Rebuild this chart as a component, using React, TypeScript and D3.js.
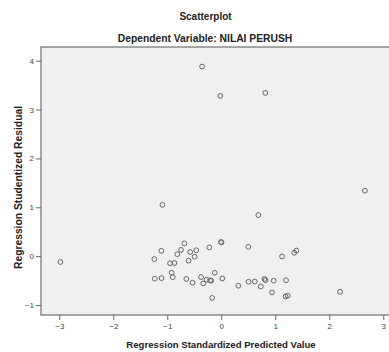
import React, { useRef, useEffect } from 'react';
import * as d3 from 'd3';

// Regression Standardized Predicted Value
const predicted = [
	-2.98, -1.09, -0.357, -0.02, 0.815, 0.685, 2.66, 2.20,
	-0.685, -1.11, -0.746, -0.815, -0.576, -0.463, -0.493, -0.607,
	-1.24, -0.95, -0.867, -0.222, -0.006, 0.004, 0.50, 1.124,
	1.35, 1.39, -0.918, -0.90, -1.233, -1.107, -0.648, -0.533,
	-0.376, -0.335, -0.274, -0.209, -0.187, -0.122, 0.019, -0.169,
	0.315, 0.504, 0.619, 0.731, 0.80, 0.819, 0.97, 0.939,
	1.20, 1.19, 1.23,
];

// Regression Studentized Residual
const residual = [
	-0.12, 1.05, 3.88, 3.28, 3.34, 0.84, 1.34, -0.73,
	0.26, 0.11, 0.127, 0.04, 0.084, 0.12, -0.012, -0.094,
	-0.06, -0.145, -0.14, 0.178, 0.29, 0.28, 0.19, -0.006,
	0.07, 0.115, -0.34, -0.43, -0.46, -0.45, -0.467, -0.544,
	-0.428, -0.56, -0.483, -0.493, -0.503, -0.34, -0.456, -0.855,
	-0.606, -0.524, -0.52, -0.62, -0.467, -0.493, -0.503, -0.743,
	-0.493, -0.825, -0.81,
];

const xTicks = [-3, -2, -1, 0, 1, 2, 3];
const yTicks = [-1, 0, 1, 2, 3, 4];

const width = 389;
const height = 352;

const App: React.FC = () => {
	const svgRef = useRef<SVGSVGElement | null>(null);

	useEffect(() => {
		if (!svgRef.current) return;
		document.body.style.margin = '0';
		document.body.style.overflow = 'hidden';

		const svg = d3.select(svgRef.current)
			.attr('width', width)
			.attr('height', height)
			.attr('viewBox', [0, 0, width, height].join(' '))
			.style('font-family', '"Liberation Sans", Arial, sans-serif');

		const frameLeft = 41;
		const frameTop = 47;
		const frameBottom = 315;
		const frameRight = 395;

		const x = d3.scaleLinear().domain([-3, 3]).range([59.3, 383.3]);
		const y = d3.scaleLinear().domain([-1, 4]).range([305, 60.7]);

		svg.append('rect')
			.attr('width', width)
			.attr('height', height)
			.attr('fill', '#ffffff');

		// plot frame
		svg.append('rect')
			.attr('x', frameLeft)
			.attr('y', frameTop)
			.attr('width', frameRight - frameLeft)
			.attr('height', frameBottom - frameTop)
			.attr('fill', '#f0f0f0')
			.attr('stroke', '#8a8a8a')
			.attr('stroke-width', 1.5);

		// x-axis
		svg.append('g')
			.attr('transform', `translate(0,${frameBottom})`)
			.call(d3.axisBottom(x).tickValues(xTicks).tickSize(5).tickPadding(3).tickFormat(d3.format('d')))
			.call(g => g.select('.domain').remove())
			.call(g => g.selectAll('.tick line').attr('stroke', '#666'))
			.call(g => g.selectAll('.tick text')
				.attr('fill', '#444')
				.attr('font-size', '8px')
				.attr('font-family', '"Liberation Sans", Arial, sans-serif'));

		// y-axis
		svg.append('g')
			.attr('transform', `translate(${frameLeft},0)`)
			.call(d3.axisLeft(y).tickValues(yTicks).tickSize(5).tickPadding(2).tickFormat(d3.format('d')))
			.call(g => g.select('.domain').remove())
			.call(g => g.selectAll('.tick line').attr('stroke', '#666'))
			.call(g => g.selectAll('.tick text')
				.attr('fill', '#444')
				.attr('font-size', '8px')
				.attr('font-family', '"Liberation Sans", Arial, sans-serif'));

		// points
		svg.append('g')
			.selectAll('circle')
			.data(predicted.map((p, i) => ({ p, r: residual[i] })))
			.join('circle')
			.attr('cx', d => x(d.p))
			.attr('cy', d => y(d.r))
			.attr('r', 2.4)
			.attr('fill', 'none')
			.attr('stroke', '#666')
			.attr('stroke-width', 1);

		// titles
		svg.append('text')
			.attr('x', 205.5)
			.attr('y', 20)
			.attr('text-anchor', 'middle')
			.attr('font-weight', 'bold')
			.attr('font-size', '10px')
			.attr('fill', '#222')
			.text('Scatterplot');

		svg.append('text')
			.attr('x', 205)
			.attr('y', 42)
			.attr('text-anchor', 'middle')
			.attr('font-weight', 'bold')
			.attr('font-size', '10.3px')
			.attr('fill', '#222')
			.text('Dependent Variable: NILAI PERUSH');

		svg.append('text')
			.attr('x', 221)
			.attr('y', 347.5)
			.attr('text-anchor', 'middle')
			.attr('font-weight', 'bold')
			.attr('font-size', '9.6px')
			.attr('fill', '#222')
			.text('Regression Standardized Predicted Value');

		svg.append('text')
			.attr('transform', `translate(21.5,187.5) rotate(-90)`)
			.attr('text-anchor', 'middle')
			.attr('font-weight', 'bold')
			.attr('font-size', '10.3px')
			.attr('fill', '#222')
			.text('Regression Studentized Residual');

		return () => { svg.selectAll('*').remove(); };
	}, []);

	return (
		<svg ref={svgRef} style={{ display: 'block' }} />
	);
};

export default App;
